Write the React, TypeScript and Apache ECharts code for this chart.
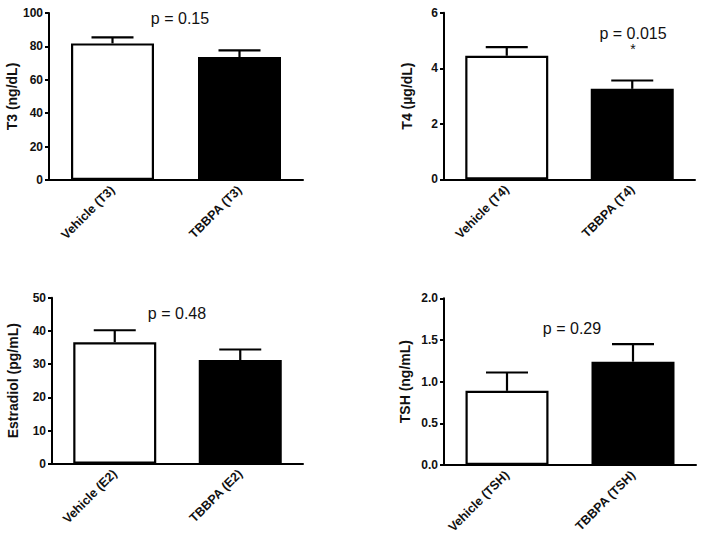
import React, { useEffect, useRef } from "react";
import * as echarts from "echarts";

const t3Categories = ["Vehicle (T3)", "TBBPA (T3)"];
const t3Means = [81.8, 73.6];
const t3Errors = [3.6, 4.0];

const t4Categories = ["Vehicle (T4)", "TBBPA (T4)"];
const t4Means = [4.45, 3.26];
const t4Errors = [0.31, 0.3];

const e2Categories = ["Vehicle (E2)", "TBBPA (E2)"];
const e2Means = [36.6, 31.2];
const e2Errors = [3.6, 3.2];

const tshCategories = ["Vehicle (TSH)", "TBBPA (TSH)"];
const tshMeans = [0.89, 1.24];
const tshErrors = [0.22, 0.21];

const pLabels = ["p = 0.15", "p = 0.015", "p = 0.48", "p = 0.29"];
const yNames = ["T3 (ng/dL)", "T4 (µg/dL)", "Estradiol (pg/mL)", "TSH (ng/mL)"];

const FONT = "Arial, 'Liberation Sans', Helvetica, sans-serif";

export default function App() {
  const ref = useRef<HTMLDivElement>(null);

  useEffect(() => {
    if (!ref.current) return;
    const chart = echarts.init(ref.current, undefined, { renderer: "svg" });

    const panels = [
      { cats: t3Categories, means: t3Means, errs: t3Errors, max: 100, interval: 20, dec: 0, grid: { left: 49, top: 13, width: 254, height: 167 }, nameGap: 29 },
      { cats: t4Categories, means: t4Means, errs: t4Errors, max: 6, interval: 2, dec: 0, grid: { left: 444, top: 12.7, width: 251, height: 166.7 }, nameGap: 30 },
      { cats: e2Categories, means: e2Means, errs: e2Errors, max: 50, interval: 10, dec: 0, grid: { left: 52, top: 297.7, width: 251, height: 166 }, nameGap: 32 },
      { cats: tshCategories, means: tshMeans, errs: tshErrors, max: 2, interval: 0.5, dec: 1, grid: { left: 444, top: 298.3, width: 252, height: 166.7 }, nameGap: 32 },
    ];

    const grids: any[] = [];
    const xAxes: any[] = [];
    const yAxes: any[] = [];
    const series: any[] = [];

    panels.forEach((p, i) => {
      grids.push({ ...p.grid, containLabel: false });
      xAxes.push({
        type: "category",
        gridIndex: i,
        data: p.cats,
        boundaryGap: true,
        axisLine: { lineStyle: { color: "#000", width: 2 } },
        axisTick: { alignWithLabel: true, length: 5, interval: 0, lineStyle: { color: "#000", width: 2 } },
        axisLabel: {
          rotate: 45,
          interval: 0,
          margin: 8,
          color: "#111",
          fontFamily: FONT,
          fontWeight: "bold",
          fontSize: 12.5,
        },
      });
      yAxes.push({
        type: "value",
        gridIndex: i,
        min: 0,
        max: p.max,
        interval: p.interval,
        name: yNames[i],
        nameLocation: "middle",
        nameRotate: 90,
        nameGap: p.nameGap,
        nameTextStyle: { color: "#111", fontFamily: FONT, fontWeight: "bold", fontSize: 14 },
        splitLine: { show: false },
        axisLine: { show: true, lineStyle: { color: "#000", width: 2 } },
        axisTick: { show: true, length: 4, lineStyle: { color: "#000", width: 2 } },
        axisLabel: {
          margin: 6,
          color: "#111",
          fontFamily: FONT,
          fontWeight: "bold",
          fontSize: 12,
          formatter: (v: number) => v.toFixed(p.dec),
        },
      });
      series.push({
        type: "bar",
        xAxisIndex: i,
        yAxisIndex: i,
        barWidth: 83,
        data: p.means.map((m, j) => ({
          value: m,
          itemStyle: { color: j === 0 ? "#fff" : "#000", borderColor: "#000", borderWidth: 2.2 },
        })),
        z: 2,
      });
      series.push({
        type: "custom",
        xAxisIndex: i,
        yAxisIndex: i,
        z: 3,
        data: p.means.map((m, j) => [j, m, p.errs[j]]),
        renderItem: (params: any, api: any) => {
          const x = api.value(0);
          const m = api.value(1);
          const e = api.value(2);
          const base = api.coord([x, m]);
          const top = api.coord([x, m + e]);
          const half = 21;
          const style = { stroke: "#000", lineWidth: 2.2, fill: "none" };
          return {
            type: "group",
            children: [
              { type: "line", shape: { x1: base[0], y1: base[1], x2: top[0], y2: top[1] }, style },
              { type: "line", shape: { x1: top[0] - half, y1: top[1], x2: top[0] + half, y2: top[1] }, style },
            ],
          };
        },
      });
    });

    const pPos = [
      { x: 180, y: 18 },
      { x: 633, y: 33 },
      { x: 177, y: 313 },
      { x: 572, y: 328 },
    ];

    const graphic: any[] = pLabels.map((t, i) => ({
      type: "text",
      x: pPos[i].x,
      y: pPos[i].y,
      style: {
        text: t,
        fill: "#111",
        font: `16px ${FONT}`,
        textAlign: "center",
        textVerticalAlign: "middle",
      },
    }));
    graphic.push({
      type: "text",
      x: 633,
      y: 49,
      style: { text: "*", fill: "#111", font: `14px ${FONT}`, textAlign: "center", textVerticalAlign: "middle" },
    });

    chart.setOption({
      animation: false,
      backgroundColor: "#fff",
      grid: grids,
      xAxis: xAxes,
      yAxis: yAxes,
      series,
      graphic,
    });

    return () => chart.dispose();
  }, []);

  return (
    <div
      ref={ref}
      style={{ position: "fixed", left: 0, top: 0, width: 704, height: 543, background: "#fff" }}
    />
  );
}
